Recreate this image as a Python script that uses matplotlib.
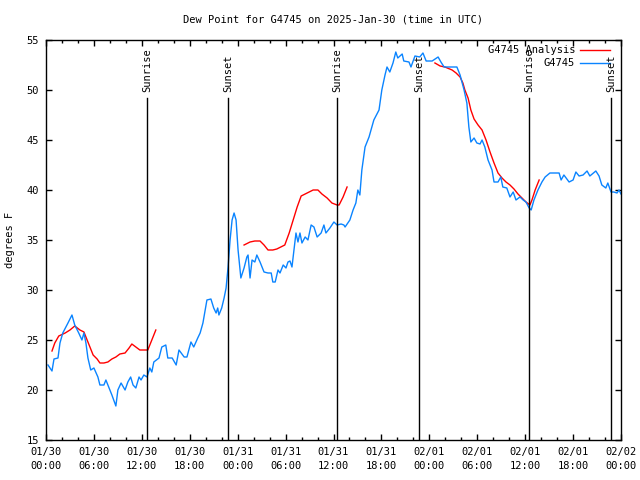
import numpy as np
import matplotlib
matplotlib.use('Agg')

import matplotlib.pyplot as plt
from matplotlib.ticker import MultipleLocator

# hours since 2025-01-30 00:00 UTC
obs_hours = [0.25, 0.75, 1.0, 1.5, 1.75, 2.1, 2.75, 3.25, 3.6, 4.1, 4.5, 4.75, 5.0, 5.25, 5.6,
             6.0, 6.5, 6.75, 7.25, 7.5, 7.9, 8.25, 8.75, 9.0, 9.4, 9.9, 10.25, 10.6, 10.9, 11.25,
             11.65, 11.9, 12.25, 12.65, 13.0, 13.25, 13.5, 14.15, 14.5, 15.0, 15.25, 15.8, 16.3,
             16.65, 17.3, 17.65, 18.15, 18.5, 19.0, 19.3, 19.65, 20.15, 20.65, 21.0, 21.3, 21.5,
             21.65, 22.0, 22.3, 22.55, 22.8, 23.05, 23.3, 23.55, 23.8, 24.05, 24.4, 24.8, 25.15,
             25.3, 25.55, 25.8, 26.15, 26.4, 26.8, 27.3, 27.8, 28.2, 28.4, 28.7, 29.05, 29.3,
             29.7, 30.05, 30.3, 30.55, 30.8, 31.05, 31.3, 31.55, 31.8, 32.05, 32.45, 32.8, 33.2,
             33.55, 33.95, 34.45, 34.8, 35.05, 35.55, 36.05, 36.45, 36.95, 37.3, 37.45, 38.05,
             38.45, 38.8, 39.05, 39.3, 39.55, 39.95, 40.45, 41.05, 41.7, 42.05, 42.45, 42.7,
             43.05, 43.45, 43.8, 44.05, 44.6, 44.8, 45.45, 45.7, 46.2, 46.8, 47.2, 47.6, 48.35,
             49.1, 49.45, 49.85, 50.6, 51.45, 51.85, 52.35, 52.7, 52.95, 53.2, 53.6, 53.95,
             54.35, 54.6, 54.95, 55.35, 55.85, 56.1, 56.6, 56.95, 57.2, 57.7, 58.1, 58.5, 58.85,
             59.35, 59.75, 60.1, 60.5, 60.75, 61.1, 61.6, 62.1, 62.5, 63.1, 64.25, 64.5, 64.85,
             65.5, 66.0, 66.35, 66.75, 67.25, 67.75, 68.1, 68.85, 69.25, 69.6, 70.1, 70.35,
             70.75, 71.1, 71.5, 71.75, 72.0]
obs_dewpt = [22.5, 21.9, 23.1, 23.2, 24.7, 25.7, 26.7, 27.5, 26.5, 25.7, 25.0, 25.7, 24.7, 23.2, 22.0,
             22.2, 21.3, 20.5, 20.5, 21.0, 20.2, 19.5, 18.4, 20.0, 20.7, 20.0, 20.8, 21.3, 20.5, 20.2,
             21.3, 21.0, 21.5, 21.3, 22.2, 21.8, 22.8, 23.2, 24.3, 24.5, 23.2, 23.2, 22.5,
             24.0, 23.3, 23.3, 24.8, 24.3, 25.2, 25.7, 26.7, 29.0, 29.1, 28.2, 27.7, 28.2,
             27.5, 28.2, 29.2, 30.2, 32.3, 35.0, 37.0, 37.7, 37.0, 34.0, 31.2, 32.2, 33.3,
             33.5, 31.2, 33.0, 32.8, 33.5, 32.8, 31.8, 31.7, 31.7, 30.8, 30.8, 32.0, 31.7,
             32.5, 32.2, 32.8, 32.9, 32.3, 34.0, 35.7, 34.8, 35.7, 34.7, 35.3, 35.0, 36.5,
             36.3, 35.3, 35.7, 36.5, 35.7, 36.2, 36.8, 36.5, 36.6, 36.5, 36.3, 37.0,
             38.0, 38.7, 40.0, 39.5, 42.0, 44.3, 45.3, 47.0, 48.0, 50.0, 51.5, 52.3,
             51.8, 52.7, 53.8, 53.2, 53.6, 52.9, 52.8, 52.3, 53.4, 53.3, 53.7, 52.9, 52.9,
             53.3, 52.8, 52.3, 52.3, 52.3, 51.5, 50.0, 48.7, 46.3, 44.8, 45.2, 44.7,
             44.6, 45.0, 44.3, 43.0, 42.0, 40.8, 40.8, 41.3, 40.3, 40.2, 39.3, 39.8, 39.0,
             39.3, 39.0, 38.8, 38.2, 38.0, 39.0, 40.0, 40.8, 41.3, 41.7, 41.7, 41.0, 41.5,
             40.8, 41.0, 41.8, 41.4, 41.5, 41.9, 41.4, 41.9, 41.4, 40.5, 40.2, 40.7,
             39.8, 39.8, 39.7, 40.0, 39.6]

# analysis, NaN marks the gaps
ana_hours = [0.75, 1.1, 1.6, 2.4, 3.0, 3.6, 4.25, 4.75, 5.4, 5.9, 6.4, 6.75, 7.25, 7.75, 8.25,
             8.75, 9.25, 9.9, 10.4, 10.75, 11.25, 11.75, 12.75, 13.25, 13.75, 19.0,
             24.8, 25.55, 26.15, 26.8, 27.3, 27.8, 28.4, 28.9, 29.4, 29.9, 30.45, 30.95, 31.45,
             31.95, 32.7, 33.45, 34.05, 34.55, 35.2, 35.8, 36.45, 36.7, 37.2, 37.7, 43.0,
             48.7, 49.35, 49.95, 50.85, 51.35, 51.85, 52.2, 52.45, 52.85, 53.2, 53.6, 54.1,
             54.6, 55.1, 55.6, 56.1, 56.6, 57.1, 57.6, 58.1, 58.6, 59.1, 59.6, 60.1, 60.6,
             60.85, 61.25, 61.75]
ana_dewpt = [23.9, 24.7, 25.4, 25.7, 26.0, 26.4, 26.0, 25.8, 24.5, 23.5, 23.1, 22.7, 22.7, 22.8, 23.1,
             23.3, 23.6, 23.7, 24.2, 24.6, 24.3, 24.0, 24.0, 25.0, 26.0, np.nan,
             34.5, 34.8, 34.9, 34.9, 34.5, 34.0, 34.0, 34.1, 34.3, 34.5, 35.7, 37.0, 38.3,
             39.4, 39.7, 40.0, 40.0, 39.6, 39.2, 38.7, 38.5, 38.5, 39.3, 40.3, np.nan,
             52.7, 52.4, 52.3, 52.0, 51.7, 51.3, 50.7, 50.0, 49.2, 48.0, 47.1, 46.5,
             46.0, 45.0, 43.8, 42.7, 41.7, 41.2, 40.8, 40.5, 40.1, 39.6, 39.2, 38.8, 38.5,
             39.0, 40.0, 41.0]

sun_hours = [12.65, 22.8, 36.45, 46.7, 60.5, 70.75]
sun_names = ["Sunrise", "Sunset", "Sunrise", "Sunset", "Sunrise", "Sunset"]

tick_hours = np.arange(0, 73, 6)
tick_labels = ["01/30\n00:00", "01/30\n06:00", "01/30\n12:00", "01/30\n18:00",
               "01/31\n00:00", "01/31\n06:00", "01/31\n12:00", "01/31\n18:00",
               "02/01\n00:00", "02/01\n06:00", "02/01\n12:00", "02/01\n18:00",
               "02/02\n00:00"]

plt.rcParams['font.family'] = ['DejaVu Sans Mono']
plt.rcParams['font.size'] = 7

fig = plt.figure(figsize=(6.4, 4.8), dpi=100)
ax = fig.add_axes([46/640, 40/480, 575/640, 400/480])

ax.plot(ana_hours, ana_dewpt, color='red', lw=1)
ax.plot(obs_hours, obs_dewpt, color='#0a84ff', lw=1)

#sunrise / sunset markers
for h, name in zip(sun_hours, sun_names):
    ax.plot([h, h], [15, 49.2], color='black', lw=1)
    ax.text(h, 49.8, name, rotation=90, ha='center', va='bottom', fontsize=7.5)

ax.set_xlim(0, 72)
ax.set_ylim(15, 55)
ax.set_xticks(tick_hours)
ax.set_xticklabels(tick_labels, linespacing=1.5)
ax.xaxis.set_minor_locator(MultipleLocator(2))
ax.set_yticks(np.arange(15, 56, 5))
ax.tick_params(which='both', direction='in', top=True, right=True, width=1)
ax.tick_params(which='major', length=4.5, pad=5, labelsize=7.5)
ax.tick_params(which='minor', length=2.5)
for s in ax.spines.values():
    s.set_linewidth(1)

#legend drawn like gnuplot: text right-justified, sample on the right
ax.text(0.92, 0.975, "G4745 Analysis", transform=ax.transAxes, ha='right', va='center', fontsize=7.5)
ax.plot([0.929, 0.981], [0.975, 0.975], transform=ax.transAxes, color='red', lw=1)
ax.text(0.92, 0.943, "G4745", transform=ax.transAxes, ha='right', va='center', fontsize=7.5)
ax.plot([0.929, 0.981], [0.943, 0.943], transform=ax.transAxes, color='#0a84ff', lw=1)

fig.text(333/640, 1 - 19/480, "Dew Point for G4745 on 2025-Jan-30 (time in UTC)",
         ha='center', va='center', fontsize=7.5)
fig.text(10/640, 240/480, "degrees F", rotation=90, ha='center', va='center', fontsize=7.5)

fig.savefig('out.png', dpi=100)
